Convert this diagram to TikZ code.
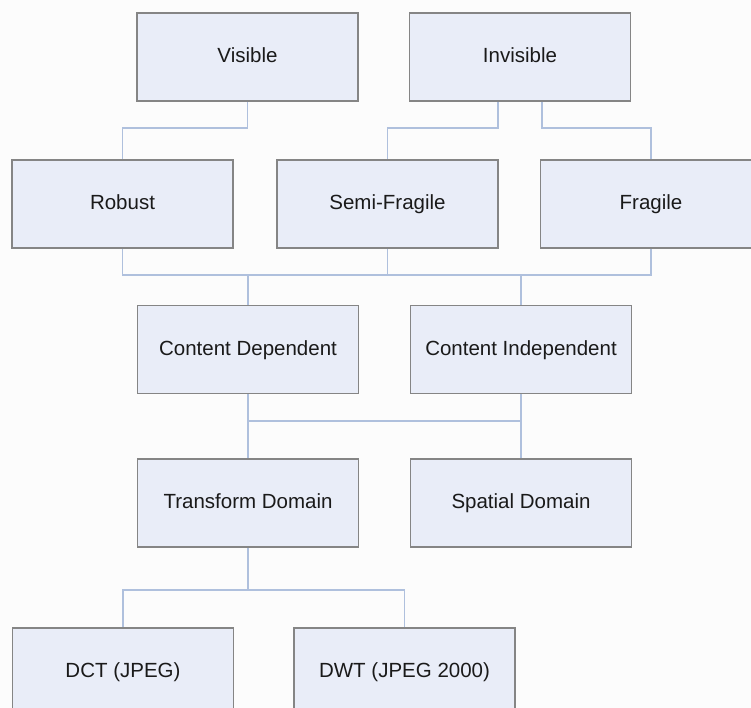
\documentclass[tikz,border=0pt]{standalone}
\usepackage{fontspec}
\setmainfont{Liberation Sans}
\usetikzlibrary{positioning}
\definecolor{boxfill}{HTML}{E9EDF8}
\definecolor{boxline}{HTML}{858585}
\definecolor{wire}{HTML}{AFC0DD}
\definecolor{txt}{HTML}{1A1A1A}
\tikzstyle{block} = [rectangle, minimum width=221pt, minimum height=88pt, text centered, text height=15pt, text depth=4pt, fill=boxfill, draw=boxline, line width=1.6pt, text=txt, font=\fontsize{20.5}{24}\selectfont]
\tikzstyle{wire} = [draw=wire, line width=1.3pt]

\begin{document}
\begin{tikzpicture}[x=1pt, y=-1pt]
 \useasboundingbox (0,0) rectangle (751,708);
 \fill[white!99!black] (0,0) rectangle (751,708);
 \clip (0,0) rectangle (751,708);

 % boxes
 \node (vis) [block] at (247.5,57) {Visible};
 \node (inv) [block] at (520,57) {Invisible};
 \node (rob) [block] at (122.5,204) {Robust};
 \node (sem) [block] at (387.5,204) {Semi-Fragile};
 \node (fra) [block] at (651,204) {Fragile};
 \node (cdep) [block] at (248,349.5) {Content Dependent};
 \node (cind) [block] at (521,349.5) {Content Independent};
 \node (tdom) [block] at (248,503) {Transform Domain};
 \node (sdom) [block] at (521,503) {Spatial Domain};
 \node (dct) [block] at (123,672) {DCT (JPEG)};
 \node (dwt) [block] at (404.5,672) {DWT (JPEG 2000)};

 % bus heights
 \coordinate (busA) at (0,128);
 \coordinate (busB) at (0,275);
 \coordinate (busC) at (0,421);
 \coordinate (busD) at (0,590);

 % connectors
 \draw[wire] (vis.south) |- (busA -| rob.north) -- (rob.north);
 \draw[wire] ([xshift=-22pt]inv.south) |- (busA -| sem.north) -- (sem.north);
 \draw[wire] ([xshift=22pt]inv.south) |- (busA -| fra.north) -- (fra.north);
 \draw[wire] (rob.south) |- (busB -| fra.south) -- (fra.south);
 \draw[wire] (sem.south) -- (sem.south |- busB);
 \draw[wire] (busB -| cdep.north) -- (cdep.north);
 \draw[wire] (busB -| cind.north) -- (cind.north);
 \draw[wire] (cdep.south) -- (tdom.north);
 \draw[wire] (cind.south) -- (sdom.north);
 \draw[wire] (busC -| cdep.south) -- (busC -| cind.south);
 \draw[wire] (tdom.south) |- (busD -| dct.north) -- (dct.north);
 \draw[wire] (busD -| tdom.south) -| (dwt.north);
\end{tikzpicture}
\end{document}
